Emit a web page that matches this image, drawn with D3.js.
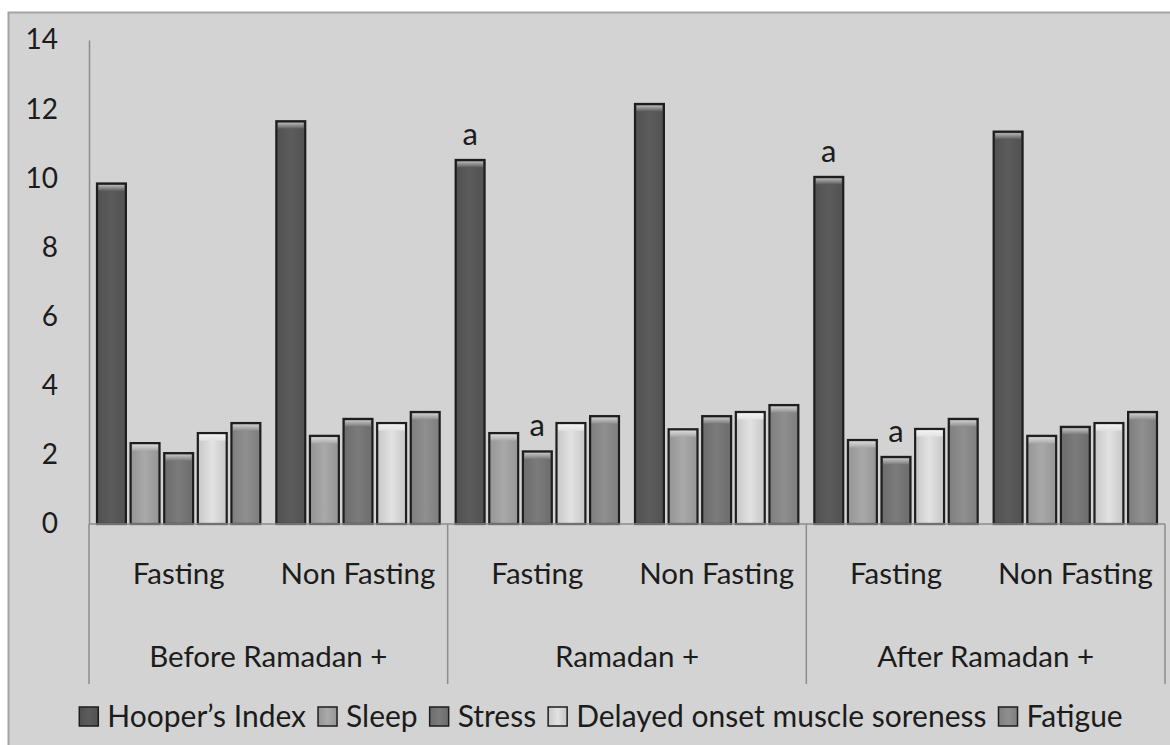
<!DOCTYPE html>
<html>
<head>
<meta charset="utf-8">
<script src="https://cdn.jsdelivr.net/npm/d3@7"></script>
<style>
  html, body { margin: 0; padding: 0; background: #fff; }
  text { font-family: Lato, "Open Sans", sans-serif; fill: #1c1c1c; }
</style>
</head>
<body>
<div id="chart"></div>
<script>
// Data
const periods = ["Before Ramadan +", "Ramadan +", "After Ramadan +"];
const groups = ["Fasting", "Non Fasting"];
const series = ["Hooper’s Index", "Sleep", "Stress", "Delayed onset muscle soreness", "Fatigue"];

const beforeFasting = [9.85, 2.34, 2.05, 2.63, 2.92];
const beforeNonFasting = [11.65, 2.55, 3.04, 2.92, 3.24];
const ramadanFasting = [10.53, 2.63, 2.10, 2.92, 3.12];
const ramadanNonFasting = [12.15, 2.74, 3.12, 3.24, 3.44];
const afterFasting = [10.04, 2.43, 1.94, 2.75, 3.04];
const afterNonFasting = [11.35, 2.55, 2.81, 2.92, 3.24];

const yTicks = [0, 2, 4, 6, 8, 10, 12, 14];

// significance marks: [period index, group index, series index]
const marks = [[1, 0, 0], [1, 0, 2], [2, 0, 0], [2, 0, 2]];

const colors = ["#5c5c5c", "#a9a9a9", "#7b7b7b", "#e2e2e2", "#8f8f8f"];

const values = [beforeFasting, beforeNonFasting, ramadanFasting, ramadanNonFasting, afterFasting, afterNonFasting];
const cats = [];
periods.forEach((p, pi) => groups.forEach((g, gi) => cats.push({ key: p + "|" + g, period: pi, group: g, vals: values[pi * 2 + gi] })));

const W = 1170, H = 745;
const plotLeft = 89, plotRight = 1165, plotTop = 40, plotBottom = 524;

const svg = d3.select("#chart").append("svg").attr("width", W).attr("height", H);

// background panel
svg.append("rect").attr("x", 8.5).attr("y", 12.5).attr("width", W).attr("height", H)
  .attr("fill", "#d3d3d3").attr("stroke", "#a4a4a4").attr("stroke-width", 2);

const defs = svg.append("defs");
colors.forEach((c, i) => {
  const hl = defs.append("linearGradient").attr("id", "hl" + i).attr("x1", 0).attr("x2", 0).attr("y1", 0).attr("y2", 1);
  hl.append("stop").attr("offset", 0).attr("stop-color", d3.interpolateRgb(c, "#ffffff")(0.55));
  hl.append("stop").attr("offset", 1).attr("stop-color", c);
  const sd = defs.append("linearGradient").attr("id", "sd" + i).attr("x1", 0).attr("x2", 1).attr("y1", 0).attr("y2", 0);
  sd.append("stop").attr("offset", 0).attr("stop-color", d3.interpolateRgb(c, "#000")(0.12));
  sd.append("stop").attr("offset", 0.5).attr("stop-color", c);
  sd.append("stop").attr("offset", 1).attr("stop-color", d3.interpolateRgb(c, "#000")(0.12));
});

const x0 = d3.scaleBand().domain(cats.map(d => d.key)).range([plotLeft, plotRight]);
const x1 = d3.scaleBand().domain(series).range([8, x0.bandwidth() - 8]).paddingInner(0.14);
const y = d3.scaleLinear().domain([0, 14]).range([plotBottom, plotTop]);

// y axis
const yAxis = svg.append("g").attr("transform", `translate(${plotLeft},0)`)
  .call(d3.axisLeft(y).tickValues(yTicks).tickSize(0).tickPadding(31));
yAxis.select(".domain").attr("stroke", "#8c8c8c").attr("stroke-width", 1.5);
yAxis.selectAll("text").style("font-size", "28px").attr("fill", "#1c1c1c").style("font-family", "Lato, sans-serif");

// bars
const cg = svg.selectAll(".cat").data(cats).enter().append("g")
  .attr("transform", d => `translate(${x0(d.key)},0)`);

const bars = cg.selectAll(".bar").data(d => d.vals.map((v, i) => ({ v, i }))).enter().append("g");
bars.append("rect")
  .attr("x", d => x1(series[d.i]))
  .attr("y", d => y(d.v))
  .attr("width", x1.bandwidth())
  .attr("height", d => y(0) - y(d.v))
  .attr("fill", d => `url(#sd${d.i})`)
  .attr("stroke", "#1e1e1e").attr("stroke-width", 2.2);
bars.append("rect")
  .attr("x", d => x1(series[d.i]) + 1.5)
  .attr("y", d => y(d.v) + 1.5)
  .attr("width", x1.bandwidth() - 3)
  .attr("height", 6)
  .attr("fill", d => `url(#hl${d.i})`);

// x axis line
svg.append("line").attr("x1", plotLeft).attr("x2", plotRight).attr("y1", plotBottom).attr("y2", plotBottom)
  .attr("stroke", "#8c8c8c").attr("stroke-width", 1.5);

// period separators
const pw = x0.bandwidth() * 2;
d3.range(periods.length + 1).forEach(i => {
  svg.append("line").attr("x1", plotLeft + i * pw).attr("x2", plotLeft + i * pw)
    .attr("y1", plotBottom).attr("y2", 684).attr("stroke", "#8c8c8c").attr("stroke-width", 1.5);
});

// group labels
svg.selectAll(".glab").data(cats).enter().append("text")
  .attr("x", d => x0(d.key) + x0.bandwidth() / 2)
  .attr("y", 584).attr("text-anchor", "middle").style("font-size", "29.5px")
  .text(d => d.group);

// period labels
svg.selectAll(".plab").data(periods).enter().append("text")
  .attr("x", (d, i) => plotLeft + i * pw + pw / 2)
  .attr("y", 667).attr("text-anchor", "middle").style("font-size", "29.5px")
  .text(d => d);

// significance marks
marks.forEach(([p, g, s]) => {
  const c = cats[p * 2 + g];
  svg.append("text")
    .attr("x", x0(c.key) + x1(series[s]) + x1.bandwidth() / 2)
    .attr("y", y(c.vals[s]) - 15)
    .attr("text-anchor", "middle").style("font-size", "31px")
    .text("a");
});

// legend
const lg = svg.append("g");
let lx = 0;
series.forEach((s, i) => {
  const item = lg.append("g").attr("transform", `translate(${lx},0)`);
  item.append("rect").attr("x", 0).attr("y", -20).attr("width", 19).attr("height", 19)
    .attr("fill", `url(#sd${i})`).attr("stroke", "#1e1e1e").attr("stroke-width", 1.5);
  const t = item.append("text").attr("x", 28).attr("y", 0).style("font-size", "30px").text(s);
  lx += 28 + t.node().getComputedTextLength() + 12;
});
lx -= 12;
lg.attr("transform", `translate(${601 - lx / 2},727)`);
</script>
</body>
</html>
